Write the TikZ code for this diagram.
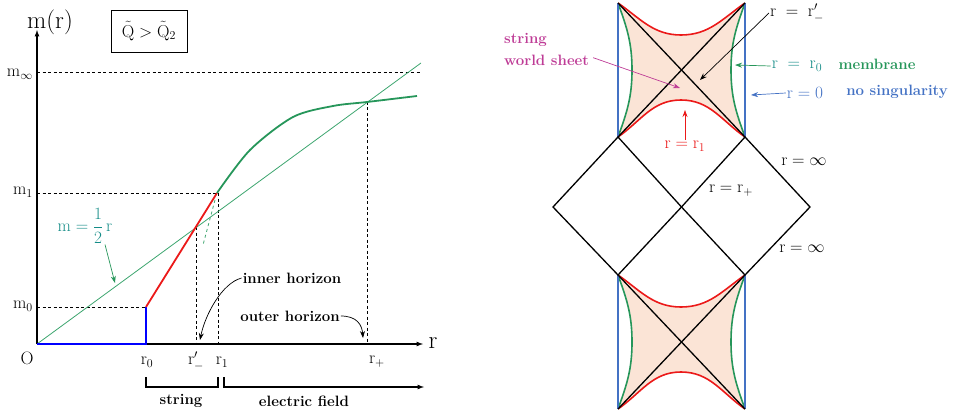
\documentclass[tikz,border=0pt]{standalone}
\usepackage{amsmath}
\usepackage{amssymb}
\usetikzlibrary{positioning, arrows.meta}
\definecolor{curvegreen}{RGB}{38,150,90}
\definecolor{linegreen}{RGB}{60,165,110}
\definecolor{tealtext}{RGB}{20,140,135}
\definecolor{sheetfill}{RGB}{251,228,214}
\definecolor{wsmagenta}{RGB}{190,60,150}
\definecolor{pblue}{RGB}{68,114,196}
\definecolor{bred}{RGB}{235,25,25}
\tikzset{
  lbl/.style={inner sep=1pt, font=\fontsize{18}{20}\selectfont},
  boldlbl/.style={inner sep=1pt, font=\fontsize{15}{18}\selectfont\bfseries},
  guide/.style={dash pattern=on 3pt off 2.5pt, line width=0.6pt},
  pointer/.style={-{Stealth[length=7pt, width=5pt]}, line width=0.7pt},
  axis/.style={line width=1.2pt},
}
\begin{document}
\begin{tikzpicture}[x=1pt, y=1pt]
\useasboundingbox (0,0) rectangle (956,-417);

% left graph
\coordinate (O) at (37,-344);
\draw[guide] (37,-72) -- (421,-72);
\draw[guide] (37,-193) -- (218,-193);
\draw[guide] (37,-307) -- (146,-307);
\draw[guide] (196,-227) -- (196,-344);
\draw[guide] (218,-193) -- (218,-344);
\draw[guide] (367,-102) -- (367,-344);
\draw[axis, -latex] (O) -- (37,-30);
\draw[axis, -latex] (O) -- (423,-344) coordinate (xtip);
\draw[linegreen, line width=0.8pt] (O) -- (421,-63);
\draw[linegreen, dashed, line width=0.8pt] (215,-200) .. controls (209,-222) .. (203,-245);
\draw[blue, line width=1.8pt] (O) -- (146,-344) -- (146,-307);
\draw[bred, line width=1.8pt] (146,-307) -- (217,-193);
\draw[curvegreen, line width=1.8pt] plot[smooth] coordinates {(217,-193) (250,-150) (293,-117) (333,-106) (367,-102) (417,-96)};

\node[lbl, font=\fontsize{28}{30}\selectfont] (rax) at (433,-343) {$\mathrm{r}$};
\node[lbl, font=\fontsize{27}{29}\selectfont] (mr) at (50,-22) {$\mathrm{m}(\mathrm{r})$};
\node[draw, line width=0.8pt, minimum width=76pt, minimum height=42pt, font=\fontsize{18}{20}\selectfont] (cond) at (149,-31) {$\tilde{\mathrm{Q}} > \tilde{\mathrm{Q}}_2$};
\node[lbl, anchor=east] (minf) at (34,-74) {$\mathrm{m}_\infty$};
\node[lbl, anchor=east] (mone) at (34,-192) {$\mathrm{m}_1$};
\node[lbl, anchor=east] (mzero) at (34,-306) {$\mathrm{m}_0$};
\node[lbl] (orig) at (27,-358) {O};
\node[lbl] (rzero) at (147,-362) {$\mathrm{r}_0$};
\node[lbl] (rminus) at (196,-361) {$\mathrm{r}'_-$};
\node[lbl] (rone) at (222,-362) {$\mathrm{r}_1$};
\node[lbl] (rplus) at (377,-362) {$\mathrm{r}_+$};
\node[lbl, text=tealtext] (slope) at (85,-226) {$\mathrm{m} = \dfrac{1}{2}\,\mathrm{r}$};
\coordinate (slopehit) at (115,-283);
\draw[pointer, curvegreen] ([xshift=20pt]slope.south) -- (slopehit);
\node[boldlbl] (innerh) at (292,-278) {inner horizon};
\node[boldlbl] (outerh) at (290,-316) {outer horizon};
\coordinate (ihend) at (200,-340);
\coordinate (ohend) at (363,-338);
\draw[pointer] (innerh.west) .. controls (222,-283) and (205,-315) .. (ihend);
\draw[pointer] (outerh.east) .. controls (357,-316) and (362,-325) .. (ohend);
\draw[line width=1.2pt] (146,-377) -- (146,-387) -- (218,-387) -- (218,-377);
\draw[line width=1.2pt, -latex] (224,-377) -- (224,-387) -- (424,-387);
\node[boldlbl] (strlbl) at (181,-401) {string};
\node[boldlbl] (efield) at (304,-401) {electric field};

% Penrose diagram
\foreach \dy in {0,-272} {
\begin{scope}[yshift=\dy]
\fill[sheetfill] (618,-3) to[out=-35,in=180] (681,-35) to[out=0,in=-145] (745,-3)
  to[out=-110,in=90] (731,-70) to[out=-90,in=110] (745,-137)
  to[out=145,in=0] (681,-100) to[out=180,in=35] (618,-137)
  to[out=70,in=-90] (632,-70) to[out=90,in=-70] cycle;
\draw[bred, line width=1.6pt] (618,-3) to[out=-35,in=180] (681,-35) to[out=0,in=-145] (745,-3);
\draw[bred, line width=1.6pt] (618,-137) to[out=35,in=180] (681,-100) to[out=0,in=145] (745,-137);
\draw[curvegreen, line width=1.6pt] (618,-3) to[out=-70,in=90] (632,-70) to[out=-90,in=70] (618,-137);
\draw[curvegreen, line width=1.6pt] (745,-3) to[out=-110,in=90] (731,-70) to[out=-90,in=110] (745,-137);
\draw[pblue, line width=1.3pt] (618,-3) -- (618,-137) (745,-3) -- (745,-137);
\draw[line width=1.3pt] (618,-3) -- (745,-137) (745,-3) -- (618,-137);
\end{scope}
}
\draw[line width=1.3pt] (618,-137) -- (553,-207) -- (618,-275) -- (681.5,-207) -- cycle;
\draw[line width=1.3pt] (745,-137) -- (681.5,-207) -- (745,-275) -- (810,-207) -- cycle;

\node[boldlbl, text=wsmagenta, align=left, anchor=north west, font=\fontsize{15}{22}\selectfont\bfseries] (wsheet) at (503,-32) {string\\world sheet};
\coordinate (wshit) at (680,-88);
\draw[pointer, wsmagenta] ([shift={(3,9)}]wsheet.south east) -- (wshit);
\node[lbl] (rmlbl) at (797,-13) {$\mathrm{r} \;=\; \mathrm{r}'_-$};
\coordinate (rmhit) at (700,-80);
\draw[pointer] (rmlbl.west) -- (rmhit);
\node[lbl, text=tealtext] (rzlbl) at (797,-66) {$\mathrm{r} \;=\; \mathrm{r}_0$};
\node[boldlbl, text=curvegreen] (membrane) at (877,-64) {membrane};
\coordinate (rzhit) at (735,-65);
\draw[pointer, curvegreen] (rzlbl.west) -- (rzhit);
\node[lbl, text=pblue] (rnull) at (805,-93) {$\mathrm{r} = 0$};
\node[boldlbl, text=pblue] (nosing) at (897,-92) {no singularity};
\coordinate (rnhit) at (751,-95);
\draw[pointer, pblue] (rnull.west) -- (rnhit);
\node[lbl, text=bred] (ronelbl) at (685,-146) {$\mathrm{r} = \mathrm{r}_1$};
\coordinate (rohit) at (685,-110);
\draw[pointer, bred] (ronelbl.north) -- (rohit);
\node[lbl] (rinfa) at (804,-162) {$\mathrm{r} = \infty$};
\node[lbl] (rinfb) at (802,-249) {$\mathrm{r} = \infty$};
\node[lbl] (rplbl) at (731,-191) {$\mathrm{r} = \mathrm{r}_+$};
\end{tikzpicture}
\end{document}
